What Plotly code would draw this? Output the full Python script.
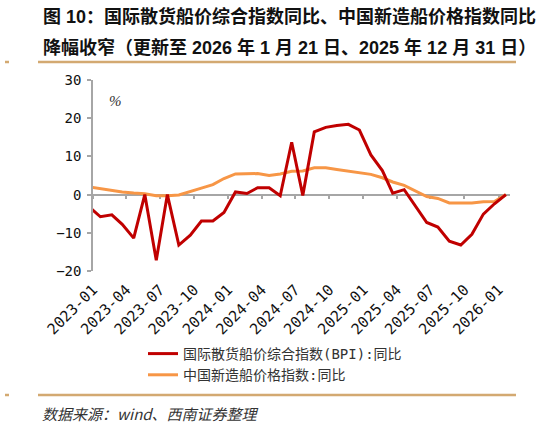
import plotly.graph_objects as go

# monthly observations (plotted around the 21st of each month)
months = ["2022-12",
          "2023-01", "2023-02", "2023-03", "2023-04", "2023-05", "2023-06",
          "2023-07", "2023-08", "2023-09", "2023-10", "2023-11", "2023-12",
          "2024-01", "2024-02", "2024-03", "2024-04", "2024-05", "2024-06",
          "2024-07", "2024-08", "2024-09", "2024-10", "2024-11", "2024-12",
          "2025-01", "2025-02", "2025-03", "2025-04", "2025-05", "2025-06",
          "2025-07", "2025-08", "2025-09", "2025-10", "2025-11", "2025-12",
          "2026-01"]
dates = [m + "-21" for m in months]

# 国际散货船价综合指数(BPI):同比, %
bpi_yoy = [-3.2,
           -5.8, -5.3, -7.8, -11.4, 0.0, -17.2,
           0.0, -13.2, -10.6, -6.9, -6.9, -4.7,
           0.7, 0.3, 1.8, 1.8, -0.3, 13.7,
           -0.2, 16.4, 17.6, 18.1, 18.4, 16.9,
           10.4, 6.3, 0.4, 1.3, -3.0, -7.3,
           -8.5, -12.2, -13.2, -10.4, -5.1, -2.4,
           0.0]

# 中国新造船价格指数:同比, %
cnpi_yoy = [2.0,
            1.5, 1.1, 0.7, 0.4, 0.2, -0.3,
            -0.3, -0.1, 0.9, 1.7, 2.6, 4.2,
            5.4, 5.5, 5.5, 5.0, 5.4, 6.1,
            6.2, 7.0, 7.0, 6.6, 6.2, 5.7,
            5.3, 4.4, 3.3, 2.4, 0.9, -0.5,
            -1.0, -2.2, -2.2, -2.2, -1.9, -1.8,
            0.0]

tick_vals = ["2023-01-01", "2023-04-01", "2023-07-01", "2023-10-01",
             "2024-01-01", "2024-04-01", "2024-07-01", "2024-10-01",
             "2025-01-01", "2025-04-01", "2025-07-01", "2025-10-01",
             "2026-01-01"]
tick_text = ["2023-01", "2023-04", "2023-07", "2023-10",
             "2024-01", "2024-04", "2024-07", "2024-10",
             "2025-01", "2025-04", "2025-07", "2025-10",
             "2026-01"]
x_range = ["2023-01-01", "2026-02-01"]
y_range = [-20, 30]

# the page body margin is removed below, so pixel positions are window pixels
W, H = 542, 425
L, T = 93, 80
R = W - 510
B = H - 271
pw, ph = W - L - R, H - T - B


def px(x):
    return (x - L) / pw


def py(y):
    return (H - B - y) / ph


MONO = "DejaVu Sans Mono, Noto Sans CJK SC"
CJK = "Liberation Sans, Noto Sans CJK SC"
RED = "#C00000"
ORANGE = "#F79646"
GREY = "#A6A6A6"
TAN = "#D3A971"

fig = go.Figure()
fig.add_trace(go.Scatter(x=dates, y=bpi_yoy, mode="lines", xaxis="x2",
                         name="国际散货船价综合指数(BPI):同比",
                         line=dict(color=RED, width=3)))
fig.add_trace(go.Scatter(x=dates, y=cnpi_yoy, mode="lines",
                         name="中国新造船价格指数:同比",
                         line=dict(color=ORANGE, width=3)))

zero_pos = (0 - y_range[0]) / (y_range[1] - y_range[0])

fig.update_layout(
    width=W, height=H,
    margin=dict(l=L, r=R, t=T, b=B),
    paper_bgcolor="white", plot_bgcolor="white",
    showlegend=True,
    xaxis=dict(type="date", range=x_range, tickmode="array",
               tickvals=tick_vals, ticktext=tick_text, tickangle=-45,
               showline=False, showgrid=False, zeroline=False, ticks="",
               tickfont=dict(family=MONO, size=15, color="#111"),
               ticklabelstandoff=6),
    xaxis2=dict(type="date", range=x_range, overlaying="x", anchor="free",
                position=zero_pos, tickmode="array", tickvals=tick_vals,
                showticklabels=False, showline=True, linecolor=GREY,
                linewidth=1.5, ticks="outside", ticklen=4, tickcolor=GREY,
                tickwidth=1.5, showgrid=False, zeroline=False,
                layer="below traces"),
    yaxis=dict(range=y_range, dtick=10, showline=True, linecolor=GREY,
               linewidth=1.5, ticks="outside", ticklen=4, tickcolor=GREY,
               tickwidth=1.5, showgrid=False, zeroline=False,
               tickfont=dict(family=MONO, size=14, color="#111"),
               ticklabelstandoff=3),
    legend=dict(x=px(143), y=py(338), xanchor="left", yanchor="top",
                font=dict(family=MONO, size=14, color="#333"),
                bgcolor="rgba(0,0,0,0)", tracegroupgap=0),
)

# title, unit and source
fig.add_annotation(text="<b>图 10：国际散货船价综合指数同比、中国新造船价格指数同比</b>",
                   xref="paper", yref="paper", x=px(41), y=py(16),
                   xanchor="left", yanchor="middle", showarrow=False,
                   font=dict(family=CJK, size=18, color="#111"))
fig.add_annotation(text="<b>降幅收窄（更新至 2026 年 1 月 21 日、2025 年 12 月 31 日）</b>",
                   xref="paper", yref="paper", x=px(41), y=py(47),
                   xanchor="left", yanchor="middle", showarrow=False,
                   font=dict(family=CJK, size=18, color="#111"))
fig.add_annotation(text="<i>%</i>", xref="paper", yref="paper",
                   x=px(115), y=py(101), xanchor="center", yanchor="middle",
                   showarrow=False,
                   font=dict(family="Liberation Serif", size=15, color="#333"))
fig.add_annotation(text="<i>数据来源：wind、西南证券整理</i>",
                   xref="paper", yref="paper", x=px(40), y=py(413),
                   xanchor="left", yanchor="middle", showarrow=False,
                   font=dict(family="Noto Sans CJK SC", size=15, color="#333"))

# separator rules
for yy in (62, 395):
    fig.add_shape(type="line", xref="paper", yref="paper", layer="above",
                  x0=px(38), x1=px(516), y0=py(yy), y1=py(yy),
                  line=dict(color=TAN, width=2.5))
    fig.add_shape(type="line", xref="paper", yref="paper", layer="above",
                  x0=px(5), x1=px(9), y0=py(yy), y1=py(yy),
                  line=dict(color=TAN, width=2.5))

fig.write_html("out.html", config={"displayModeBar": False},
               post_script="document.body.style.margin='0';"
                           "document.body.style.overflow='hidden';")
